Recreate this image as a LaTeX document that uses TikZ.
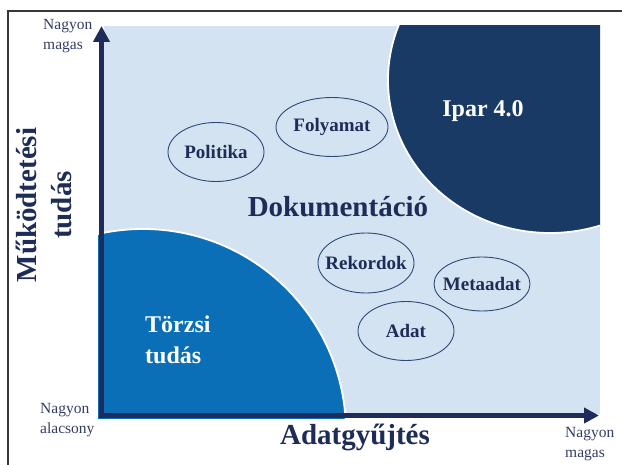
\documentclass[tikz,border=0pt]{standalone}
\usepackage{fontspec}
\setmainfont{Liberation Serif}
\usetikzlibrary{shapes.geometric,arrows.meta}
\definecolor{bgblue}{RGB}{211,227,241}
\definecolor{iparblue}{RGB}{24,58,101}
\definecolor{torzsblue}{RGB}{11,111,183}
\definecolor{axisnavy}{RGB}{31,43,90}
\definecolor{textnavy}{RGB}{30,44,88}
\definecolor{ellline}{RGB}{45,72,122}
\definecolor{smallnavy}{RGB}{52,62,100}
\definecolor{framegray}{RGB}{55,55,55}
\begin{document}
\begin{tikzpicture}[x=1pt,y=-1pt,
  frame/.style={draw=framegray,line width=1.3pt},
  axisline/.style={draw=axisnavy,line width=5pt,line join=miter},
  bubble/.style={ellipse,draw=ellline,line width=0.9pt,inner sep=0pt},
  bubbletext/.style={font=\fontsize{19}{22}\selectfont\bfseries,text=textnavy,inner sep=0pt},
  bigtext/.style={font=\fontsize{29}{35}\selectfont\bfseries,text=textnavy,inner sep=0pt},
  whitetext/.style={font=\fontsize{24}{31}\selectfont\bfseries,text=white,inner sep=0pt},
  smalltext/.style={font=\fontsize{15.5}{20.5}\selectfont,text=smallnavy,inner sep=0pt,align=left}
]
\useasboundingbox (0,0) rectangle (622,465);
\fill[white] (0,0) rectangle (622,465);
% frame
\draw[frame] (8,465) -- (8,11) -- (622,11);
% background field
\fill[bgblue] (104,26) rectangle (600,414);
% Ipar 4.0 region
\begin{scope}
  \clip (104,26) rectangle (600,414);
  \fill[iparblue] (550,80) ellipse[x radius=162pt,y radius=153pt];
  \draw[white,line width=1.8pt] (550,80) ellipse[x radius=162pt,y radius=153pt];
\end{scope}
% Törzsi tudás region
\begin{scope}
  \clip (98,26) rectangle (600,419);
  \fill[torzsblue] (143,432) circle[radius=203pt];
  \draw[white,line width=1.8pt] (143,432) circle[radius=203pt];
  \fill[torzsblue] (98,410) rectangle (300,419);
\end{scope}
% axes
\coordinate (O) at (101.5,415.5);
\coordinate (ytip) at (101.5,26);
\coordinate (xtip) at (599,415.5);
\draw[axisline,{Triangle[length=16pt,width=16pt]}-{Triangle[length=15pt,width=15pt]}] (ytip) -- (O) -- (xtip);
% bubbles
\node[bubble,minimum width=96pt,minimum height=59pt,label={[bubbletext]center:Politika}] (pol) at (216,152) {};
\node[bubble,minimum width=112pt,minimum height=59pt,label={[bubbletext]center:Folyamat}] (fol) at (332,127) {};
\node[bubble,minimum width=96pt,minimum height=60pt,label={[bubbletext]center:Rekordok}] (rek) at (366,263) {};
\node[bubble,minimum width=96pt,minimum height=54pt,label={[bubbletext]center:Metaadat}] (meta) at (482,284) {};
\node[bubble,minimum width=96pt,minimum height=59pt,label={[bubbletext]center:Adat}] (adat) at (406,331) {};
% region labels
\node[bigtext,anchor=base] (dok) at (338,217) {Dokumentáció};
\node[whitetext,anchor=base] (ipar) at (483,117) {Ipar 4.0};
\node[whitetext,anchor=north west,align=left] (torzs) at (145,316) {Törzsi\\tudás};
% axis titles
\node[bigtext,align=center,rotate=90] (ytitle) at (44,205) {Működtetési\\tudás};
\node[bigtext,anchor=base] (xtitle) at (355,445) {Adatgyűjtés};
% axis end labels
\node[smalltext,anchor=north west] (ytop) at (43,18.8) {Nagyon\\magas};
\node[smalltext,anchor=north west] (orig) at (40,402.8) {Nagyon\\alacsony};
\node[smalltext,anchor=north west] (xend) at (565,426.8) {Nagyon\\magas};
\end{tikzpicture}
\end{document}
